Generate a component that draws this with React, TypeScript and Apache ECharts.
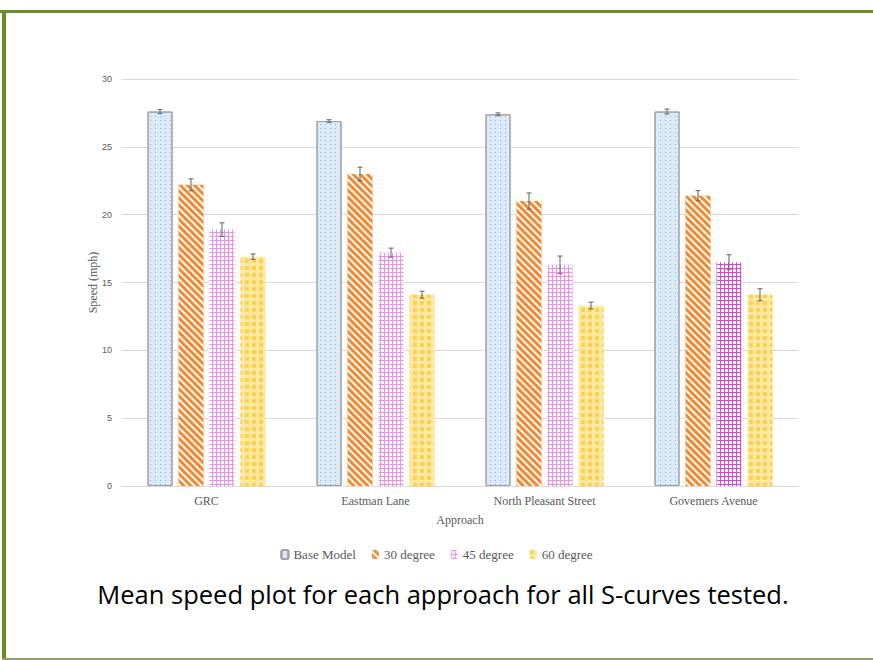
import React, { useEffect, useRef } from "react";
import * as echarts from "echarts";

const categories = ["GRC", "Eastman Lane", "North Pleasant Street", "Govemers Avenue"];
const seriesNames = ["Base Model", "30 degree", "45 degree", "60 degree"];
const baseModel = [27.6, 26.9, 27.4, 27.6];
const deg30 = [22.2, 23.0, 21.0, 21.4];
const deg45 = [18.9, 17.2, 16.3, 16.5];
const deg60 = [16.9, 14.1, 13.3, 14.1];
const errBase = [0.15, 0.1, 0.1, 0.18];
const err30 = [0.44, 0.5, 0.6, 0.37];
const err45 = [0.5, 0.33, 0.65, 0.55];
const err60 = [0.2, 0.26, 0.25, 0.44];
const yTicks = [0, 5, 10, 15, 20, 25, 30];

const BAR_W = 25;
const GAP_RATIO = 0.24;

function pinkGrid(color: string) {
  return {
    color: "#ffffff",
    decal: {
      symbol: "rect",
      symbolSize: 1,
      dashArrayX: [[1, 0], [1, 2.5]],
      dashArrayY: [1, 0, 3, 0],
      color,
    },
  };
}

export default function App() {
  const ref = useRef<HTMLDivElement>(null);
  useEffect(() => {
    if (!ref.current) return;
    const chart = echarts.init(ref.current, null, { renderer: "svg" });
    const values = [baseModel, deg30, deg45, deg60];
    const errs = [errBase, err30, err45, err60];
    const errData: number[][] = [];
    values.forEach((arr, s) => arr.forEach((v, c) => errData.push([c, s, v, errs[s][c]])));

    const styles: any[] = [
      {
        color: "#dce9f6",
        borderColor: "#a0a0a0",
        borderWidth: 1,
        decal: { symbol: "rect", symbolSize: 1, dashArrayX: [1, 4], dashArrayY: [1, 3], color: "#7fb0e0" },
      },
      {
        color: "#f5882f",
        decal: { symbol: "rect", symbolSize: 1, dashArrayX: [1, 0], dashArrayY: [2, 3], rotation: Math.PI / 4, color: "#ffffff" },
      },
      pinkGrid("#f08cf0"),
      {
        color: "#ffe8a3",
        decal: { symbol: "rect", symbolSize: 1, dashArrayX: [4, 3], dashArrayY: [4, 3], color: "#ffd146" },
      },
    ];

    const seriesData = values.map((arr, i) =>
      arr.map((v, c) =>
        i === 2 && c === 3 ? { value: v, itemStyle: pinkGrid("#e040e0") } : v
      )
    );

    const serif = "'Liberation Serif', 'Times New Roman', serif";
    chart.setOption({
      animation: false,
      backgroundColor: "#ffffff",
      grid: { left: 122, right: 75, top: 79, bottom: 174 },
      legend: {
        data: seriesNames,
        left: "center",
        top: 543,
        itemWidth: 7,
        itemHeight: 9,
        itemGap: 16,
        textStyle: { fontFamily: serif, fontSize: 13, color: "#595959" },
      },
      xAxis: {
        type: "category",
        data: categories,
        name: "Approach",
        nameLocation: "middle",
        nameGap: 28,
        nameTextStyle: { fontFamily: serif, fontSize: 12, color: "#595959" },
        axisLine: { lineStyle: { color: "#d9d9d9" } },
        axisTick: { show: false },
        axisLabel: { fontFamily: serif, fontSize: 12, color: "#595959", margin: 9 },
      },
      yAxis: {
        type: "value",
        min: yTicks[0],
        max: yTicks[yTicks.length - 1],
        interval: 5,
        name: "Speed (mph)",
        nameLocation: "middle",
        nameGap: 23,
        nameMoveOverlap: false,
        nameTextStyle: { fontFamily: serif, fontSize: 12, color: "#595959" },
        axisLine: { show: false },
        axisTick: { show: false },
        axisLabel: { fontFamily: "'Liberation Sans', sans-serif", fontSize: 9, color: "#595959", margin: 10 },
        splitLine: { lineStyle: { color: "#d9d9d9" } },
      },
      series: [
        ...seriesData.map((arr, i) => ({
          type: "bar",
          name: seriesNames[i],
          data: arr,
          barWidth: BAR_W,
          barGap: GAP_RATIO * 100 + "%",
          itemStyle: styles[i],
        })),
        {
          type: "custom",
          name: "err",
          data: errData,
          encode: { x: 0, y: 2 },
          z: 10,
          renderItem: (params: any, api: any) => {
            const c = api.value(0);
            const s = api.value(1);
            const v = api.value(2);
            const e = api.value(3);
            const offset = (s - 1.5) * BAR_W * (1 + GAP_RATIO);
            const top = api.coord([c, v + e]);
            const bot = api.coord([c, v - e]);
            const x = top[0] + offset;
            const cap = 2.5;
            const st = { stroke: "#6d6d6d", lineWidth: 1.1 };
            return {
              type: "group",
              children: [
                { type: "line", shape: { x1: x, y1: top[1], x2: x, y2: bot[1] }, style: st },
                { type: "line", shape: { x1: x - cap, y1: top[1], x2: x + cap, y2: top[1] }, style: st },
                { type: "line", shape: { x1: x - cap, y1: bot[1], x2: x + cap, y2: bot[1] }, style: st },
              ],
            };
          },
        },
      ],
      graphic: [
        { type: "rect", shape: { x: 0, y: 10, width: 873, height: 3 }, style: { fill: "#6b8e23" } },
        { type: "rect", shape: { x: 2, y: 10, width: 4, height: 650 }, style: { fill: "#6b8e23" } },
        { type: "rect", shape: { x: 2, y: 658, width: 871, height: 2 }, style: { fill: "#8aa65a" } },
        {
          type: "text",
          x: 443,
          y: 594,
          style: {
            text: "Mean speed plot for each approach for all S-curves tested.",
            fontFamily: "'Open Sans', sans-serif",
            fontSize: 25.5,
            fill: "#000000",
            align: "center",
            verticalAlign: "middle",
          },
        },
      ],
    });
    return () => chart.dispose();
  }, []);
  return (
    <div
      ref={ref}
      style={{ position: "absolute", left: 0, top: 0, width: 873, height: 660 }}
    />
  );
}
